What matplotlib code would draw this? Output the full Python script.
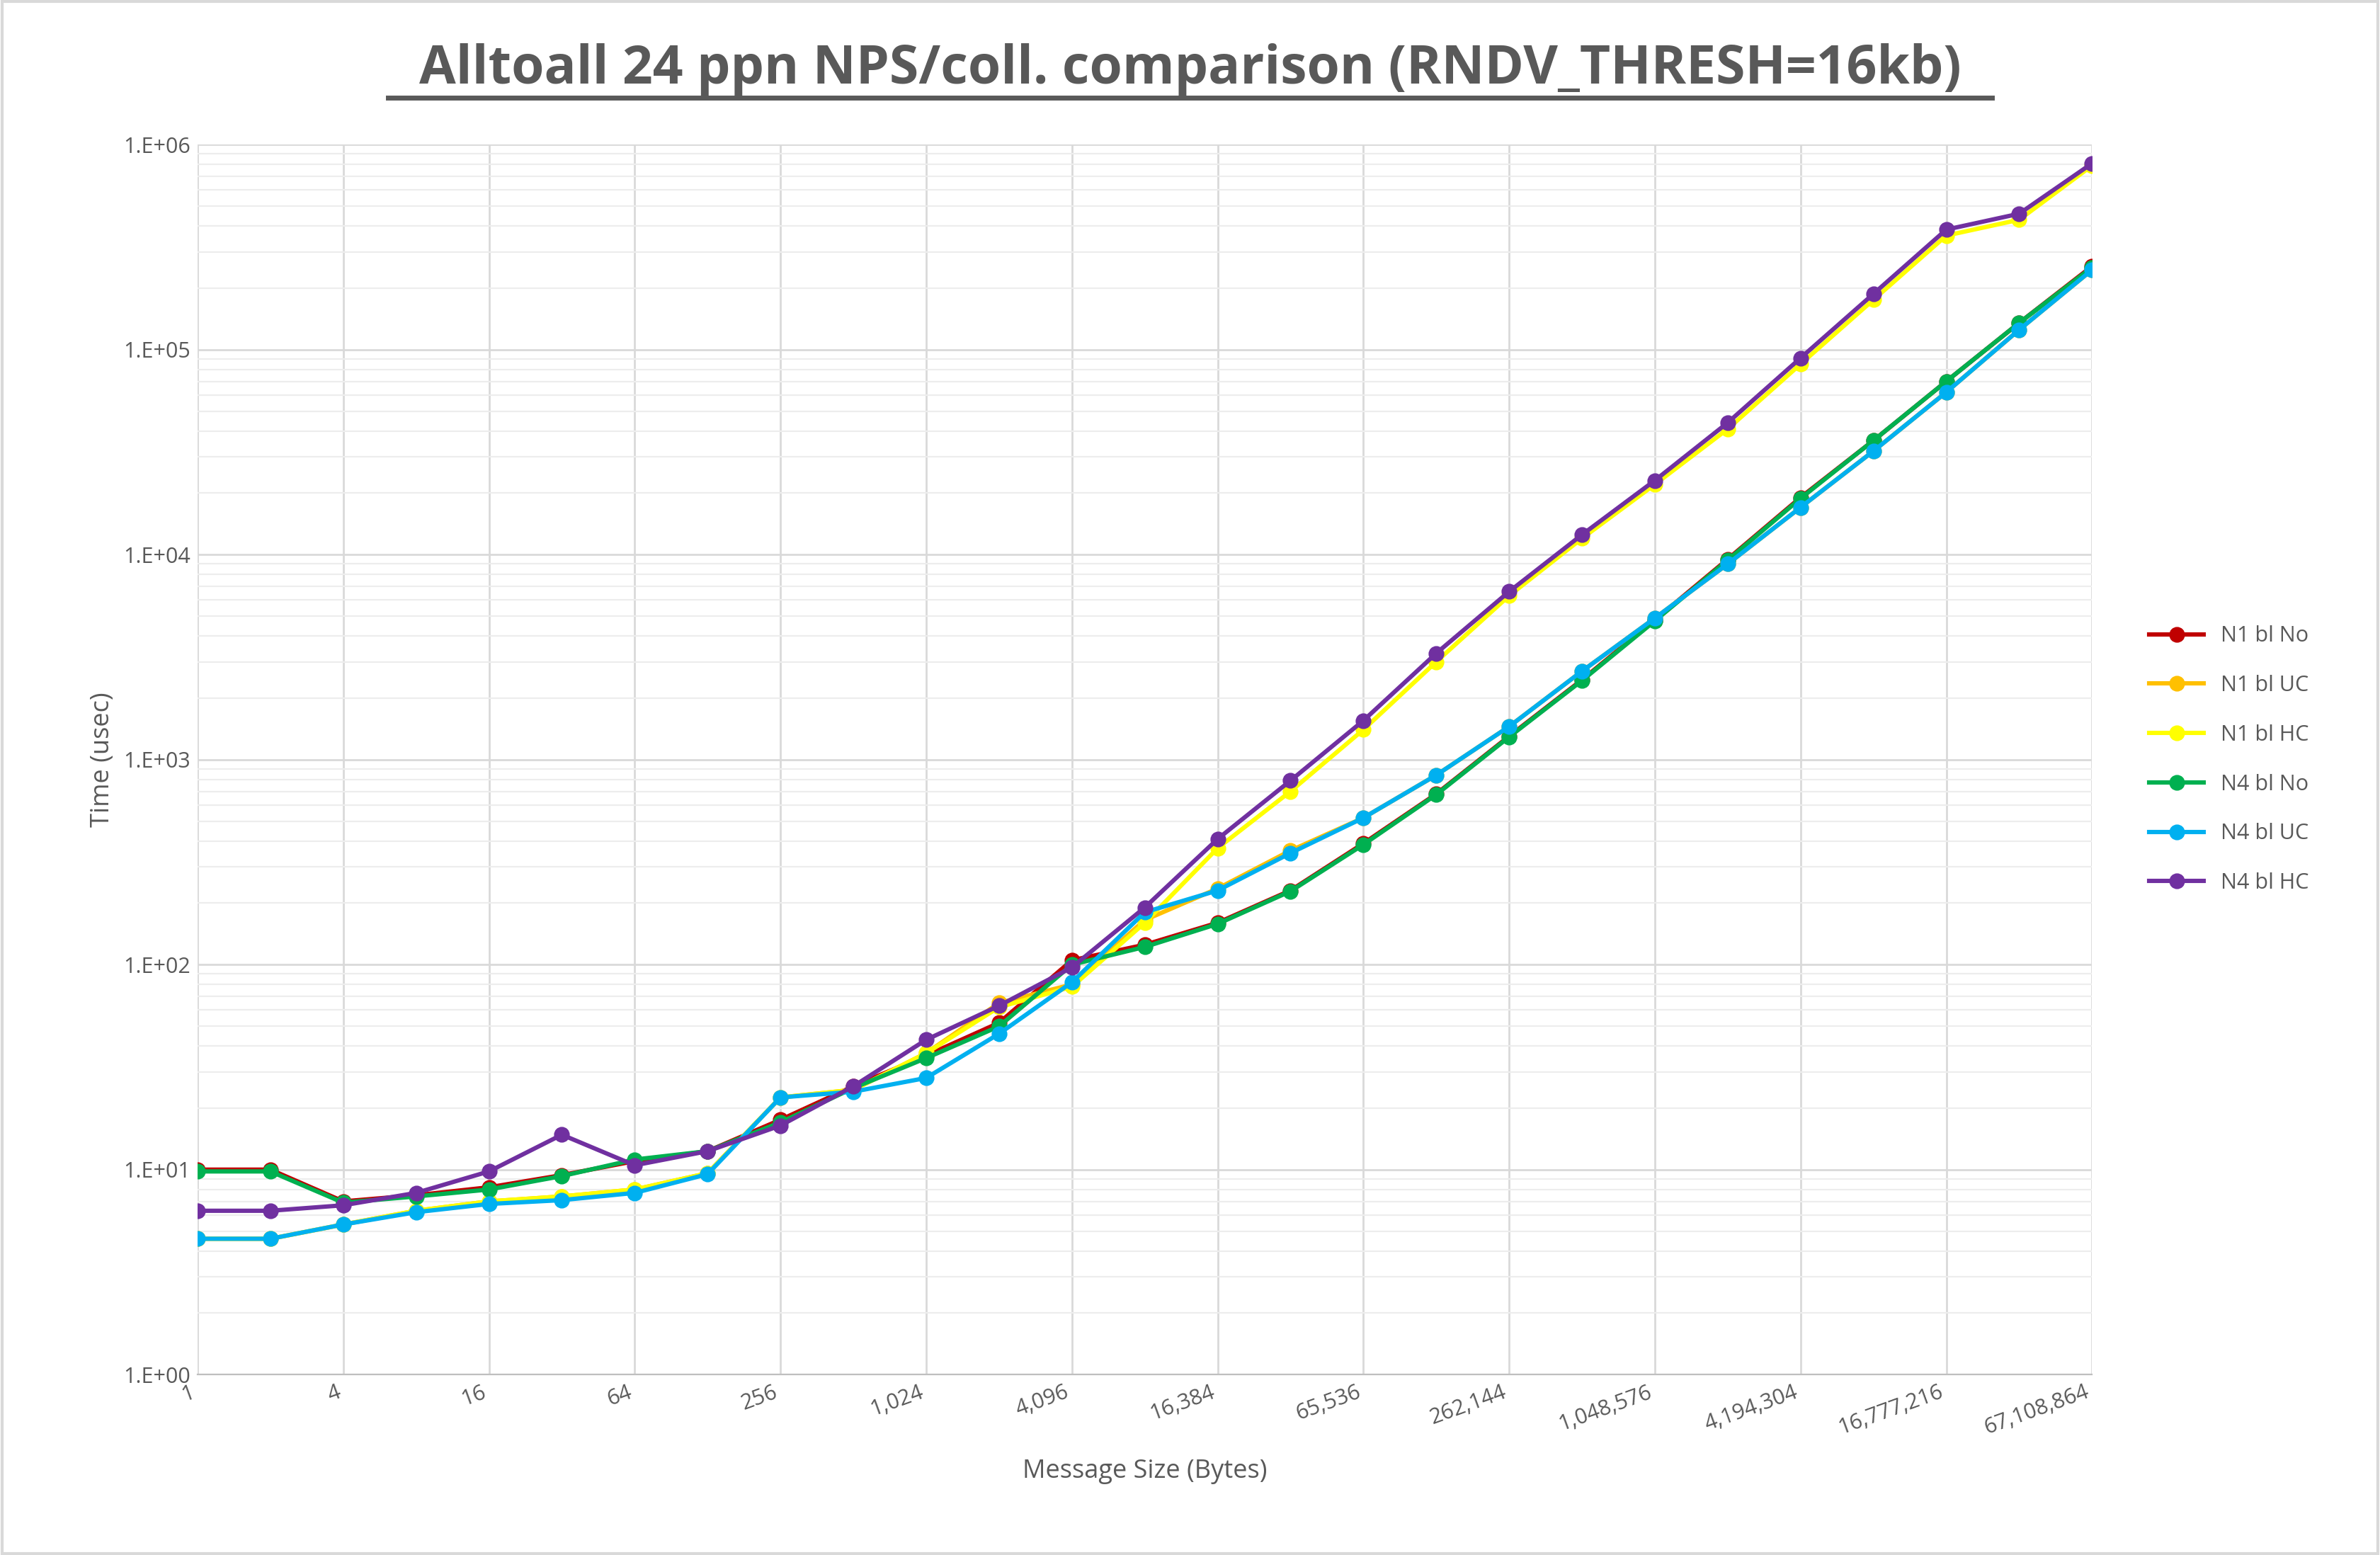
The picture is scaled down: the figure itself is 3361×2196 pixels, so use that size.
import matplotlib
matplotlib.use("Agg")
import matplotlib.pyplot as plt
from matplotlib.ticker import FixedLocator, LogLocator, NullFormatter

sizes = [2**i for i in range(27)]
n1_no = [10, 10, 7, 7.5, 8.2, 9.4, 11, 12.3, 17.5, 25.5, 36, 52, 105, 125, 160, 230, 390, 680, 1300, 2450, 4800, 9500, 19000, 36000, 70000, 135000, 255000]
n1_uc = [4.6, 4.6, 5.4, 6.3, 7.0, 7.4, 8.0, 9.6, 22.5, 24.5, 37, 65, 80, 165, 235, 360, 520, 840, 1450, 2700, 4900, 9000, 17000, 32000, 62000, 125000, 245000]
n1_hc = [4.6, 4.6, 5.4, 6.3, 7.0, 7.4, 8.0, 9.6, 22.5, 24.5, 37, 62, 78, 160, 370, 700, 1400, 3000, 6300, 12000, 22000, 41000, 85000, 175000, 360000, 430000, 790000]
n4_no = [9.8, 9.8, 6.9, 7.4, 8.0, 9.3, 11.2, 12.3, 17, 25, 35, 50, 100, 122, 158, 228, 385, 675, 1290, 2430, 4750, 9400, 18800, 36000, 70000, 135000, 252000]
n4_uc = [4.6, 4.6, 5.4, 6.2, 6.8, 7.1, 7.7, 9.5, 22.5, 24, 28, 46, 82, 180, 230, 350, 520, 840, 1450, 2700, 4900, 9000, 17000, 32000, 62000, 125000, 245000]
n4_hc = [6.3, 6.3, 6.7, 7.7, 9.8, 14.8, 10.5, 12.3, 16.4, 25.5, 43, 63, 97, 190, 410, 790, 1550, 3300, 6600, 12500, 23000, 44000, 91000, 187000, 385000, 460000, 810000]

series = [("N1 bl No", n1_no, "#C00000"), ("N1 bl UC", n1_uc, "#FFC000"),
          ("N1 bl HC", n1_hc, "#FFFF00"), ("N4 bl No", n4_no, "#00B050"),
          ("N4 bl UC", n4_uc, "#00B0F0"), ("N4 bl HC", n4_hc, "#7030A0")]
tick_vals = [4**i for i in range(14)]

plt.rcParams["font.family"] = "Open Sans"
fig = plt.figure(figsize=(16.805, 10.98), dpi=200)
ax = fig.add_axes([0.083, 0.116, 0.796, 0.791])
for name, vals, c in series:
    ax.plot(sizes, vals, color=c, lw=2.2, marker="o", ms=7, label=name)
ax.set_xscale("log", base=2)
ax.set_yscale("log")
ax.set_xlim(1, 2**26)
ax.set_ylim(1, 1e6)
ax.xaxis.set_major_locator(FixedLocator(tick_vals))
ax.xaxis.set_minor_locator(FixedLocator([]))
ax.set_xticklabels([f"{v:,}" for v in tick_vals], rotation=20, ha="right", color="#595959", fontsize=11)
yt = [10**i for i in range(7)]
ax.yaxis.set_major_locator(FixedLocator(yt))
ax.set_yticklabels([f"1.E+{i:02d}" for i in range(7)], color="#595959", fontsize=11)
ax.yaxis.set_minor_locator(LogLocator(base=10, subs=range(2, 10)))
ax.yaxis.set_minor_formatter(NullFormatter())
ax.grid(which="major", color="#D9D9D9", lw=1)
ax.grid(which="minor", axis="y", color="#EDEDED", lw=0.8)
ax.tick_params(length=0, which="both")
for s in ax.spines.values():
    s.set_visible(False)
ax.spines["bottom"].set_visible(True)
ax.spines["bottom"].set_color("#BFBFBF")
ax.set_axisbelow(True)
ax.set_xlabel("Message Size (Bytes)", color="#595959", fontsize=13, labelpad=10)
ax.set_ylabel("Time (usec)", color="#595959", fontsize=13)
fig.text(0.5, 0.955, "Alltoall 24 ppn NPS/coll. comparison (RNDV_THRESH=16kb)",
         ha="center", va="center", fontsize=27, fontweight="bold", color="#595959")
fig.add_artist(plt.Line2D([0.163, 0.837], [0.937, 0.937], color="#595959", lw=2.5))
ax.legend(loc="center left", bbox_to_anchor=(1.02, 0.5), frameon=False,
          fontsize=11, labelspacing=1.3, handlelength=2.5, labelcolor="#595959")
fig.add_artist(plt.Rectangle((0.001, 0.001), 0.998, 0.998, fill=False, ec="#D9D9D9", lw=1.5, transform=fig.transFigure))
fig.savefig("out.png", dpi=200)
